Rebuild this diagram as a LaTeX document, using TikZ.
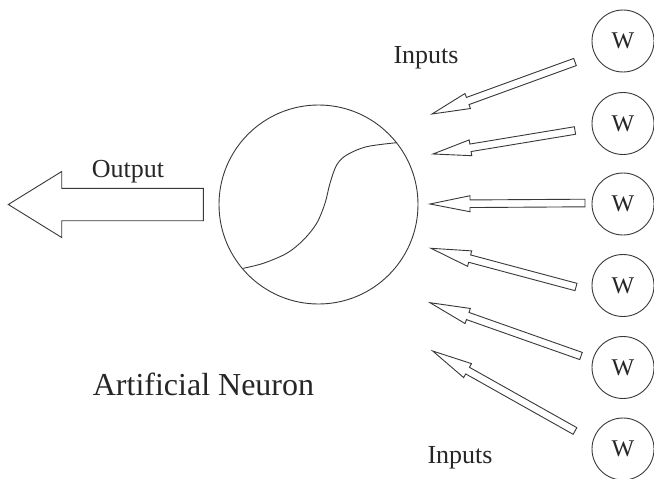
\documentclass[tikz,border=0pt]{standalone}
\usepackage{fontspec}
\setmainfont{Liberation Serif}
\usetikzlibrary{calc}
\tikzset{
  ln/.style={draw=black!78, line width=0.9pt},
  neuron/.style={ln, circle, minimum size=199pt, inner sep=0pt},
  wnode/.style={ln, circle, minimum size=62pt, inner sep=0pt, font=\fontsize{24}{26}\selectfont, text=black!85},
  lbl/.style={font=\fontsize{26}{28}\selectfont, anchor=base, inner sep=0pt, text=black!85},
  title/.style={font=\fontsize{32}{34}\selectfont, anchor=base, inner sep=0pt, text=black!85},
  arr/.style={ln, line join=miter, fill=white},
}
% #1 tip, #2 tail, #3 shaft half width, #4 head half width, #5 head length
\newcommand{\blockarrow}[5]{%
  \draw[arr] let \p1=(#1), \p2=(#2),
    \n1={atan2(\y2-\y1,\x2-\x1)}, \n2={veclen(\x2-\x1,\y2-\y1)} in
    [shift={(\p1)}, rotate=\n1]
    (0,0) -- (#5,#4) -- (#5,#3) -- (\n2,#3) -- (\n2,-#3) -- (#5,-#3) -- (#5,-#4) -- cycle;}
\begin{document}
\begin{tikzpicture}[x=1pt,y=-1pt]
\useasboundingbox (0,0) rectangle (654,479);
\clip (0,0) rectangle (654,479);

% neuron
\node[neuron] (neuron) at (318.5,204.5) {};
\draw[ln, line cap=round] plot[smooth, tension=0.55] coordinates {
  (243.3,268.3) (263.3,263.3) (286.7,253.3) (303.3,240) (316.7,223.3)
  (325,203.3) (330,183.3) (336.7,165) (346.7,155) (366.7,146.7) (396.7,142.7)};

% weights
\node[wnode] (w1) at (623,41) {W};
\node[wnode] (w2) at (623,123.5) {W};
\node[wnode] (w3) at (623,204) {W};
\node[wnode] (w4) at (623,285.5) {W};
\node[wnode] (w5) at (623,367.5) {W};
\node[wnode] (w6) at (623,449) {W};

% arrow end points
\coordinate (t1) at (432,114);   \coordinate (s1) at (575,62);
\coordinate (t2) at (433,154);   \coordinate (s2) at (575,130.5);
\coordinate (t3) at (430,204);   \coordinate (s3) at (585,203);
\coordinate (t4) at (431,248.3); \coordinate (s4) at (576,287);
\coordinate (t5) at (430,302.7); \coordinate (s5) at (581,356);
\coordinate (t6) at (432.7,351); \coordinate (s6) at (575,431);

\blockarrow{t1}{s1}{3.8}{8}{38}
\blockarrow{t2}{s2}{3.8}{8}{38}
\blockarrow{t3}{s3}{3.8}{8}{40}
\blockarrow{t4}{s4}{3.8}{8}{40}
\blockarrow{t5}{s5}{3.8}{8}{40}
\blockarrow{t6}{s6}{3.8}{8}{40}

% output arrow
\coordinate (otip) at (8.3,204.5);
\coordinate (otail) at (203.3,204.5);
\blockarrow{otip}{otail}{16.2}{33}{53.4}

% labels
\node[lbl] (outlbl) at (128,177) {Output};
\node[lbl] (intop) at (426,63) {Inputs};
\node[lbl] (inbot) at (460,463) {Inputs};
\node[title] (title) at (203.5,395) {Artificial Neuron};
\end{tikzpicture}
\end{document}
